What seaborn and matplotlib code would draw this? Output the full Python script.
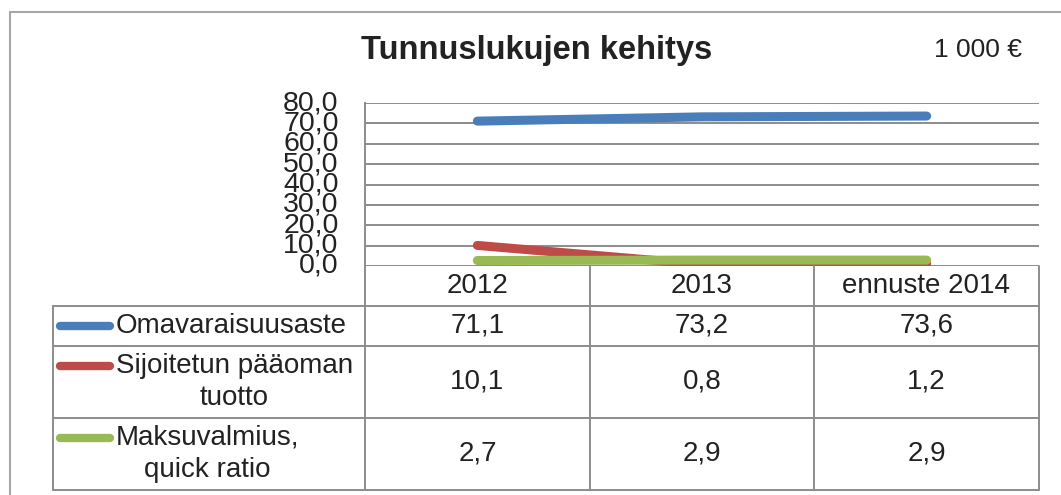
import matplotlib
matplotlib.use("Agg")
import matplotlib.pyplot as plt
from matplotlib.lines import Line2D
import pandas as pd
import seaborn as sns

# chart data
years = ["2012", "2013", "ennuste 2014"]
series_names = ["Omavaraisuusaste", "Sijoitetun pääoman\ntuotto", "Maksuvalmius,\nquick ratio"]
omavaraisuus = [71.1, 73.2, 73.6]
sijoitetun_tuotto = [10.1, 0.8, 1.2]
maksuvalmius = [2.7, 2.9, 2.9]
y_ticks = [0, 10, 20, 30, 40, 50, 60, 70, 80]
colors = ["#4A7EBB", "#BE4B48", "#98B954"]

values = [omavaraisuus, sijoitetun_tuotto, maksuvalmius]
rows = []
for name, vals in zip(series_names, values):
    for i, v in enumerate(vals):
        rows.append({"sarja": name, "x": i, "arvo": v})
df = pd.DataFrame(rows)

sns.set_theme(style="white")
plt.rcParams['font.family'] = ['Liberation Sans', 'DejaVu Sans']

W, H = 1061, 495
fig = plt.figure(figsize=(W / 100, H / 100), dpi=100)

def fx(px):
    return px / W

def fy(py):
    return 1 - py / H

grid_col = "#8C8C8C"
txt_col = "#222222"

# plot area
left, right, top, bottom = 365, 1039, 103, 266
ax = fig.add_axes([fx(left), fy(bottom), fx(right) - fx(left), fy(top) - fy(bottom)])
sns.lineplot(data=df, x="x", y="arvo", hue="sarja", palette=colors, linewidth=6.5,
             solid_capstyle="round", legend=False, ax=ax)
ax.set_xlim(-0.5, len(years) - 0.5)
ax.set_ylim(0, 80)
ax.set_yticks(y_ticks)
ax.set_yticklabels([f"{v:.1f}".replace(".", ",") for v in y_ticks], fontsize=20.5, color=txt_col)
ax.tick_params(axis="y", length=0, pad=19)
ax.set_xticks([])
ax.set_xlabel("")
ax.set_ylabel("")
for yv in y_ticks:
    ax.axhline(yv, color=grid_col, lw=1.4, zorder=0)
for s in ["top", "right", "bottom"]:
    ax.spines[s].set_visible(False)
ax.spines["left"].set_color(grid_col)
ax.spines["left"].set_linewidth(1.4)
for t in ax.get_yticklabels():
    t.set_verticalalignment("center")

# outer chart frame
fig.add_artist(Line2D([fx(10), fx(10)], [fy(12), 0], color="#A6A6A6", lw=1.5))
fig.add_artist(Line2D([fx(10), 1], [fy(12), fy(12)], color="#A6A6A6", lw=1.5))

# title and unit
fig.text(fx(537), fy(51), "Tunnuslukujen kehitys", ha="center", va="center",
         fontsize=23.5, fontweight="bold", color=txt_col)
fig.text(fx(1022), fy(50), "1 000 €", ha="right", va="center", fontsize=19, color=txt_col)

# data table
col_edges = [365, 590, 814, 1039]
row_edges = [266, 306, 346, 418, 490]
label_left = 53

def hline(x0, x1, y):
    fig.add_artist(Line2D([fx(x0), fx(x1)], [fy(y), fy(y)], color=grid_col, lw=1.4))

def vline(x, y0, y1):
    fig.add_artist(Line2D([fx(x), fx(x)], [fy(y0), fy(y1)], color=grid_col, lw=1.4))

for x in col_edges:
    vline(x, row_edges[0], row_edges[-1])
vline(label_left, row_edges[1], row_edges[-1])
for y in row_edges[1:]:
    hline(label_left, col_edges[-1], y)

col_centers = [(a + b) / 2 for a, b in zip(col_edges[:-1], col_edges[1:])]
for cx, yr in zip(col_centers, years):
    fig.text(fx(cx), fy((row_edges[0] + row_edges[1]) / 2), yr, ha="center", va="center",
             fontsize=20, color=txt_col)

for r, (name, vals, c) in enumerate(zip(series_names, values, colors)):
    y0, y1 = row_edges[r + 1], row_edges[r + 2]
    cy = (y0 + y1) / 2
    nlines = name.count("\n") + 1
    first_y = cy - (nlines - 1) * 16
    fig.add_artist(Line2D([fx(60), fx(110)], [fy(first_y), fy(first_y)], color=c, lw=6,
                          solid_capstyle="round"))
    fig.text(fx(116), fy(cy), name, ha="left", va="center", multialignment="center",
             fontsize=20, color=txt_col, linespacing=1.3)
    for cx, v in zip(col_centers, vals):
        fig.text(fx(cx), fy(cy), f"{v:.1f}".replace(".", ","), ha="center", va="center",
                 fontsize=20, color=txt_col)

fig.savefig("out.png", dpi=100)
